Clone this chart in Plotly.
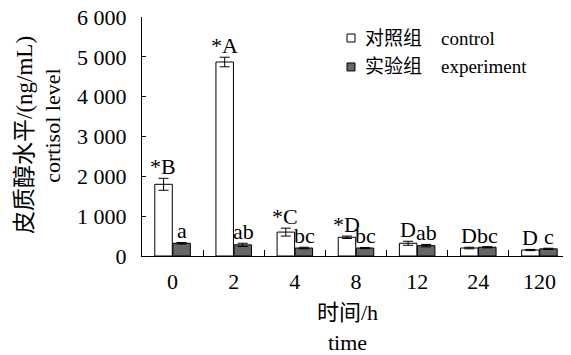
import plotly.graph_objects as go

times = ["0", "2", "4", "8", "12", "24", "120"]
control = [1800, 4870, 600, 470, 320, 200, 150]
control_err = [150, 120, 100, 30, 50, 20, 15]
experiment = [320, 280, 200, 200, 260, 220, 180]
experiment_err = [20, 40, 20, 15, 30, 15, 15]
control_labels = ["*B", "*A", "*C", "*D", "D", "D", "D"]
experiment_labels = ["a", "ab", "bc", "bc", "ab", "bc", "c"]
y_tickvals = [0, 1000, 2000, 3000, 4000, 5000, 6000]
y_ticktext = ["0", "1 000", "2 000", "3 000", "4 000", "5 000", "6 000"]
legend_names = ["对照组" + "\u00a0" * 4 + "control", "实验组" + "\u00a0" * 4 + "experiment"]
legend_colors = ["white", "#666666"]

SERIF = "Liberation Serif"
FONT = "Liberation Serif, Noto Sans CJK SC, serif"

fig = go.Figure()
fig.add_trace(go.Bar(
    x=times, y=control, name=legend_names[0], showlegend=False,
    marker=dict(color=legend_colors[0], line=dict(color="black", width=1)),
    error_y=dict(type="data", array=control_err, color="black", thickness=1, width=5),
))
fig.add_trace(go.Bar(
    x=times, y=experiment, name=legend_names[1], showlegend=False,
    marker=dict(color=legend_colors[1], line=dict(color="black", width=1)),
    error_y=dict(type="data", array=experiment_err, color="black", thickness=1, width=5),
))

annotations = []
for i, t in enumerate(times):
    annotations.append(dict(
        x=i, y=control[i] + control_err[i], xref="x", yref="y",
        text=control_labels[i], showarrow=False, xshift=-9.5, yanchor="bottom",
        yshift=-3, font=dict(family=SERIF, size=22, color="black")))
    annotations.append(dict(
        x=i, y=experiment[i] + experiment_err[i], xref="x", yref="y",
        text=experiment_labels[i], showarrow=False, xshift=9.5, yanchor="bottom",
        yshift=-3, font=dict(family=SERIF, size=22, color="black")))

annotations += [
    dict(x=-0.273, y=0.507, xref="paper", yref="paper", text="皮质醇水平/(ng/mL)",
         xanchor="center", yanchor="middle",
         textangle=-90, showarrow=False, font=dict(family=FONT, size=23, color="black")),
    dict(x=-0.208, y=0.545, xref="paper", yref="paper", text="cortisol level",
         xanchor="center", yanchor="middle",
         textangle=-90, showarrow=False, font=dict(family=SERIF, size=22, color="black")),
    dict(x=0.479, y=-0.238, xref="paper", yref="paper", text="时间/h",
         xanchor="center", yanchor="middle",
         showarrow=False, font=dict(family=FONT, size=22, color="black")),
    dict(x=0.479, y=-0.360, xref="paper", yref="paper", text="time",
         xanchor="center", yanchor="middle",
         showarrow=False, font=dict(family=SERIF, size=22, color="black")),
]

# manual legend (icons + labels)
shapes = []
legend_rows_y = [0.912, 0.791]
for name, col, yy in zip(legend_names, legend_colors, legend_rows_y):
    shapes.append(dict(type="rect", xref="paper", yref="paper",
                       x0=0.479, x1=0.4977, y0=yy - 0.0167, y1=yy + 0.0167,
                       fillcolor=col, line=dict(color="black", width=1)))
    annotations.append(dict(x=0.5164, y=yy, xref="paper", yref="paper", text=name,
                            xanchor="left", yanchor="middle", showarrow=False,
                            font=dict(family=FONT, size=19, color="black")))

# page body has an 8px default margin, so the figure is 8px smaller
fig.update_layout(
    width=563, height=347,
    margin=dict(l=134, r=1, t=9, b=99, pad=0),
    paper_bgcolor="white", plot_bgcolor="white",
    barmode="group", bargap=0.41, bargroupgap=0.03,
    font=dict(family=FONT, size=22, color="black"),
    showlegend=False,
    annotations=annotations,
    shapes=shapes,
)
fig.update_xaxes(
    type="category", range=[-0.5, 6.5], automargin=False,
    showline=True, linecolor="black", linewidth=1,
    ticks="inside", tickson="boundaries", ticklen=6, tickcolor="black",
    showgrid=False, tickfont=dict(family=SERIF, size=22), ticklabelstandoff=6,
    ticklabeloverflow="allow",
)
fig.update_yaxes(
    range=[0, 6000], tickvals=y_tickvals, ticktext=y_ticktext, automargin=False,
    showline=True, linecolor="black", linewidth=1,
    ticks="inside", ticklen=4, tickcolor="black", showgrid=False, zeroline=False,
    tickfont=dict(family=SERIF, size=22), ticklabelstandoff=10,
    ticklabeloverflow="allow",
)

fig.write_html("out.html")
